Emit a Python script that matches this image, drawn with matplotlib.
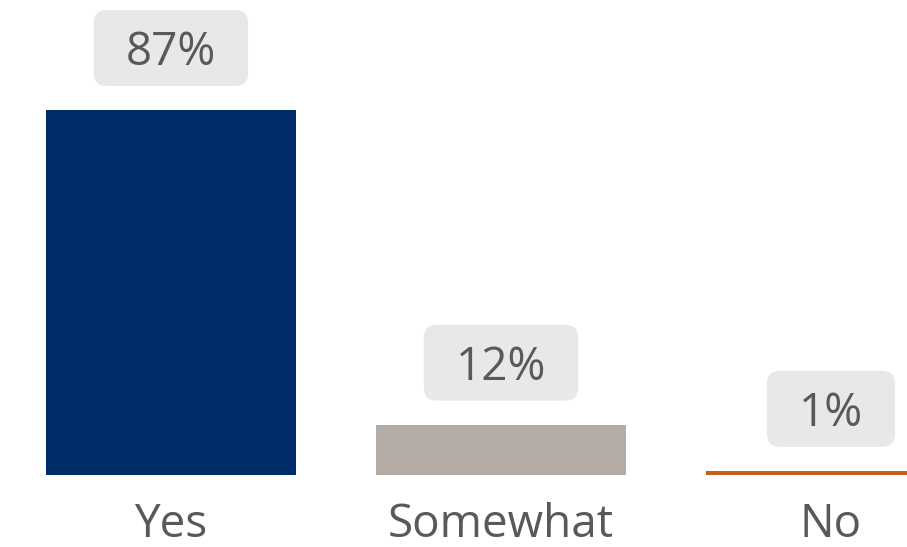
import matplotlib.pyplot as plt
from matplotlib.patches import FancyBboxPatch
from matplotlib.transforms import IdentityTransform

categories = ['Yes', 'Somewhat', 'No']
values = [87, 12, 1]
labels = ['87%', '12%', '1%']
colors = ['#002D6A', '#B5ADA5', '#C8601A']

plt.rcParams['font.family'] = ['Open Sans', 'DejaVu Sans']

W, H = 907, 547
fig = plt.figure(figsize=(W / 100, H / 100), dpi=100)
ax = fig.add_axes([0, 72 / H, 1, 475 / H])

x = range(len(categories))
ax.bar(x, values, width=250 / 330, color=colors)
ax.set_xlim(-171 / 330, (W - 171) / 330)
ax.set_ylim(0, 475 / 4.195)
ax.axis('off')

# category names under the bars
for i, c in enumerate(categories):
    ax.annotate(c, (i, 0), xytext=(0, -62), textcoords='offset pixels',
                ha='center', va='baseline', fontsize=33, color='#595959',
                annotation_clip=False)

# value labels in rounded grey boxes
texts = []
for i, (v, lab) in enumerate(zip(values, labels)):
    t = ax.annotate(lab, (i, v), xytext=(0, 45), textcoords='offset pixels',
                    ha='center', va='baseline', fontsize=33, color='#595959', zorder=4,
                    annotation_clip=False)
    texts.append(t)

fig.canvas.draw()
r = fig.canvas.get_renderer()
for i, (v, t) in enumerate(zip(values, texts)):
    bb = t.get_window_extent(r)
    cx = (bb.x0 + bb.x1) / 2
    cy = ax.transData.transform((i, v))[1] + 62
    w = bb.width + 64
    box = FancyBboxPatch((cx - w / 2, cy - 38), w, 76,
                         boxstyle='round,pad=0,rounding_size=13',
                         transform=IdentityTransform(), facecolor='#E8E8E8',
                         edgecolor='none', zorder=3, clip_on=False)
    ax.add_artist(box)

fig.savefig('out.png', dpi=100)
